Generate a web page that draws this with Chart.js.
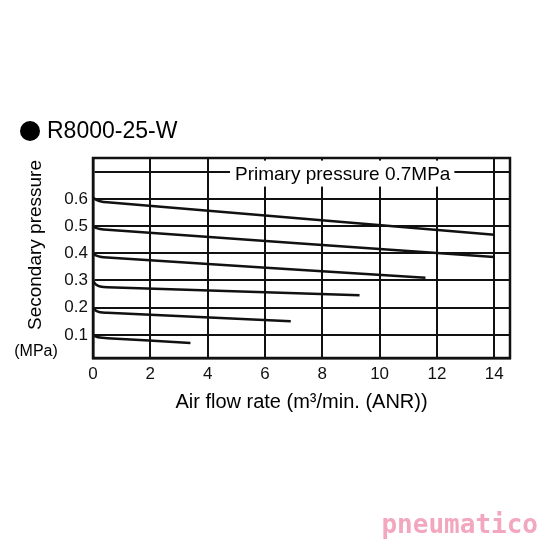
<!DOCTYPE html>
<html><head><style>html,body{margin:0;background:#fff}</style>
<script src="https://cdn.jsdelivr.net/npm/chart.js@4"></script></head>
<body><canvas id="c" width="540" height="540" style="width:540px;height:540px"></canvas>
<script>
const xTicks=[0,2,4,6,8,10,12,14];
const yTicks=[0.1,0.2,0.3,0.4,0.5,0.6];
const s06x=[0,0.1,0.25,0.5,14], s06y=[0.605,0.597,0.591,0.587,0.468];
const s05x=[0,0.1,0.25,0.5,14], s05y=[0.5,0.493,0.489,0.486,0.386];
const s04x=[0,0.1,0.25,0.5,11.6], s04y=[0.4,0.392,0.387,0.384,0.31];
const s03x=[0,0.1,0.25,0.5,9.3], s03y=[0.3,0.285,0.278,0.275,0.246];
const s02x=[0,0.1,0.25,0.5,6.9], s02y=[0.2,0.189,0.183,0.181,0.15];
const s01x=[0,0.1,0.25,0.5,3.4], s01y=[0.1,0.094,0.09,0.088,0.07];
const sets=[[s06x,s06y],[s05x,s05y],[s04x,s04y],[s03x,s03y],[s02x,s02y],[s01x,s01y]];
const F='"Liberation Sans", Arial, sans-serif';
const deco={id:'deco',afterDraw(c){const x=c.ctx,a=c.chartArea;x.save();
 x.fillStyle='#000';x.beginPath();x.arc(30,131,10,0,7);x.fill();
 x.font='23px '+F;x.textBaseline='middle';x.fillText('R8000-25-W',47,132);
 x.font='19px '+F;const t='Primary pressure 0.7MPa';const w=x.measureText(t).width;
 const yy=c.scales.y.getPixelForValue(0.7);x.fillStyle='#fff';x.fillRect(230,yy-11,w+9,26);
 x.fillStyle='#000';x.fillText(t,235,yy+3);
 x.textAlign='center';x.font='20px '+F;x.fillText('Air flow rate (m\u00b3/min. (ANR))',(a.left+a.right)/2,402);
 x.font='16px '+F;x.fillText('(MPa)',36,352);
 x.translate(36,245);x.rotate(-Math.PI/2);x.font='19px '+F;x.fillText('Secondary pressure',0,0);x.restore();
 x.save();x.font='bold 26px "DejaVu Sans Mono", monospace';x.fillStyle='#f2a7bf';x.textAlign='right';x.textBaseline='alphabetic';x.fillText('pneumatico',538,533);x.restore();}};
new Chart(document.getElementById('c'),{type:'scatter',
data:{datasets:sets.map(s=>({data:s[0].map((v,i)=>({x:v,y:s[1][i]})),showLine:true,borderColor:'#111',borderWidth:2.5,pointRadius:0,tension:0.4}))},
options:{responsive:false,animation:false,layout:{padding:{top:158,right:30}},plugins:{legend:{display:false},tooltip:{enabled:false}},
scales:{x:{type:'linear',min:0,max:14.55,afterBuildTicks(s){s.ticks=xTicks.map(v=>({value:v}))},afterFit(s){s.height=182},
 grid:{color:'#111',lineWidth:2,drawTicks:false},border:{color:'#111',width:2.5},ticks:{color:'#111',font:{size:17,family:F},padding:6}},
y:{min:0.015,max:0.75,afterBuildTicks(s){s.ticks=yTicks.concat([0.7]).map(v=>({value:v}))},afterFit(s){s.width=93},
 grid:{color:'#111',lineWidth:2,drawTicks:false},border:{color:'#111',width:2.5},ticks:{color:'#111',font:{size:17,family:F},padding:5,callback:v=>v==0.7?'':v.toFixed(1)}}}},
plugins:[deco,{id:'box',afterDraw(c){const x=c.ctx,a=c.chartArea;x.save();x.strokeStyle='#111';x.lineWidth=2.5;x.strokeRect(a.left,a.top,a.right-a.left,a.bottom-a.top);x.restore();}}]});
</script></body></html>
